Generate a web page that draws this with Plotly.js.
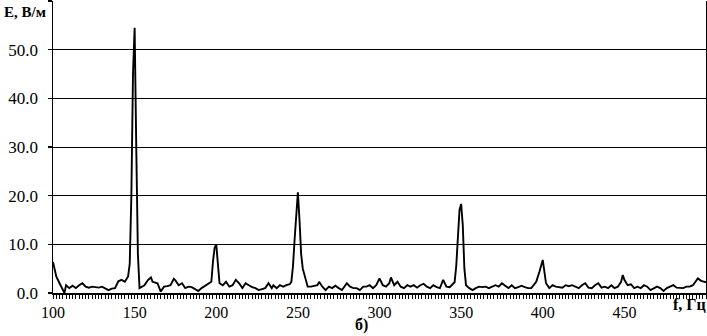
<!DOCTYPE html>
<html>
<head>
<meta charset="utf-8">
<script src="https://cdn.plot.ly/plotly-3.0.1.min.js"></script>
<style>html,body{margin:0;padding:0;background:#fff;}#chart{width:707px;height:336px;}</style>
</head>
<body>
<div id="chart"></div>
<script>
// Frequency, Hz
var freq = [100,101,102,104,106,107,108,110,112,114,116,118,120,122,124,126,128,130,132,134,136,138,140,142,144,146,147,148,149,150,151,152,153,154,156,158,160,161,162,164,166,168,170,172,174,175,177,179,181,183,185,187,189,191,193,195,197,198,199,200,201,202,204,206,208,210,212,214,216,218,220,222,224,226,228,230,232,234,235,237,239,241,243,245,246,247,248,249,250,251,252,253,254,255,256,258,260,262,263,265,267,269,271,273,275,277,280,282,284,286,288,290,292,294,296,298,300,302,304,306,307,309,311,313,315,317,319,321,323,325,327,329,331,333,335,337,339,341,343,345,346,347,348,349,350,351,352,353,355,357,359,361,363,365,367,369,371,373,375,377,379,381,383,385,387,389,391,393,395,396,398,400,401,402,404,406,408,410,412,414,416,418,420,422,424,426,428,430,432,434,436,438,440,442,444,446,448,449,450,452,454,456,458,460,462,464,466,468,470,472,474,476,478,480,482,484,486,488,490,492,494,495,497,499,500];
// Field strength E, V/m
var efield = [6.4,5.0,3.4,2.0,0.5,0.0,1.6,1.0,1.5,1.0,1.6,2.0,1.3,1.1,1.3,1.2,1.1,1.3,0.9,0.6,0.9,1.0,2.4,2.7,2.3,3.4,6,20,45,54.5,30,8,1.0,1.2,1.6,2.6,3.2,2.3,2.2,2.0,0.3,1.3,1.4,1.6,2.9,2.6,1.6,2.0,1.0,1.3,1.2,0.8,0.4,1.0,1.4,1.9,2.3,6.5,9.3,10.0,5.5,2.0,1.6,2.3,1.3,1.6,2.7,2.0,1.0,2.0,1.6,1.2,1.0,0.6,0.8,1.0,2.0,1.0,1.6,1.0,1.6,1.3,1.6,1.8,2.3,5.5,11,17,20.7,15,8,5,3.6,2.4,1.3,1.3,1.5,1.6,2.3,1.3,0.6,1.3,1.0,1.5,1.0,0.6,2.0,1.3,1.0,1.0,0.6,1.3,1.3,1.6,1.0,1.6,3.0,1.6,1.3,2.0,3.2,1.6,2.3,1.3,1.0,1.6,1.3,1.6,1.1,1.6,1.9,1.3,1.0,1.6,1.2,1.0,2.7,1.3,1.2,1.8,2.2,5.5,12,17,18.3,14,5,1.6,1.0,0.6,1.0,1.3,1.2,1.3,1.0,1.3,1.6,1.3,2.0,1.5,1.0,1.6,1.0,1.2,1.5,1.2,1.0,1.0,1.8,2.3,4.4,6.8,4.4,2.0,1.0,1.6,1.3,1.2,1.1,1.6,1.4,1.6,1.3,1.0,1.6,2.0,1.1,1.0,1.6,2.0,1.1,1.3,1.0,1.6,1.0,1.3,2.3,3.7,2.7,1.6,1.8,1.0,1.3,1.0,1.6,1.3,0.6,1.0,1.3,1.0,0.4,1.0,1.3,1.6,1.1,1.0,1.0,1.3,1.3,1.6,2.5,3.0,2.5,2.3,2.2];
var xTicks = [100,150,200,250,300,350,400,450];
var xTickText = ['100','150','200','250','300','350','400','450'];
var yTicks = [0,10,20,30,40,50,60];
var yTickText = ['0.0','10.0','20.0','30.0','40.0','50.0',''];

var serif = 'Liberation Serif, Times New Roman, serif';

var trace = {
  x: freq, y: efield, type: 'scatter', mode: 'lines',
  line: {color: '#000', width: 1.9},
  hoverinfo: 'skip'
};

var layout = {
  width: 707, height: 336,
  margin: {l: 53, r: 1, t: 1, b: 43, pad: 0},
  paper_bgcolor: '#fff', plot_bgcolor: '#fff',
  showlegend: false,
  xaxis: {
    range: [100, 500], tickmode: 'array', tickvals: xTicks, ticktext: xTickText,
    showgrid: false, zeroline: false,
    showline: true, linecolor: '#000', linewidth: 2,
    ticks: 'outside', ticklen: 4, tickwidth: 1, tickcolor: '#000',
    minor: {dtick: 2, ticks: 'outside', ticklen: 4, tickwidth: 1, tickcolor: '#000', showgrid: false},
    tickfont: {family: serif, size: 16, color: '#000'},
    ticklabelstandoff: 0
  },
  yaxis: {
    range: [0, 60], tickmode: 'array', tickvals: yTicks, ticktext: yTickText,
    showgrid: true, gridcolor: '#000', gridwidth: 1,
    zeroline: false, showline: true, linecolor: '#000', linewidth: 1.5,
    mirror: true,
    ticks: 'outside', ticklen: 4, tickwidth: 1.5, tickcolor: '#000',
    tickfont: {family: serif, size: 17, color: '#000'},
    ticklabelstandoff: 6
  },
  annotations: [
    {text: '<b>E, В/м</b>', xref: 'paper', yref: 'paper', x: -0.078, y: 0.962,
     xanchor: 'left', yanchor: 'middle', showarrow: false,
     font: {family: serif, size: 15, color: '#000'}},
    {text: '<b>f, Гц</b>', xref: 'x', yref: 'paper', x: 490, y: 0,
     xanchor: 'center', yanchor: 'top', yshift: -1, showarrow: false,
     font: {family: serif, size: 16, color: '#000'}},
    {text: '<b>б)</b>', xref: 'paper', yref: 'paper', x: (361 - 53) / 653, y: 0,
     xanchor: 'center', yanchor: 'middle', yshift: -32, showarrow: false,
     font: {family: serif, size: 16, color: '#000'}}
  ]
};

Plotly.newPlot('chart', [trace], layout, {staticPlot: true, displayModeBar: false});
</script>
</body>
</html>
